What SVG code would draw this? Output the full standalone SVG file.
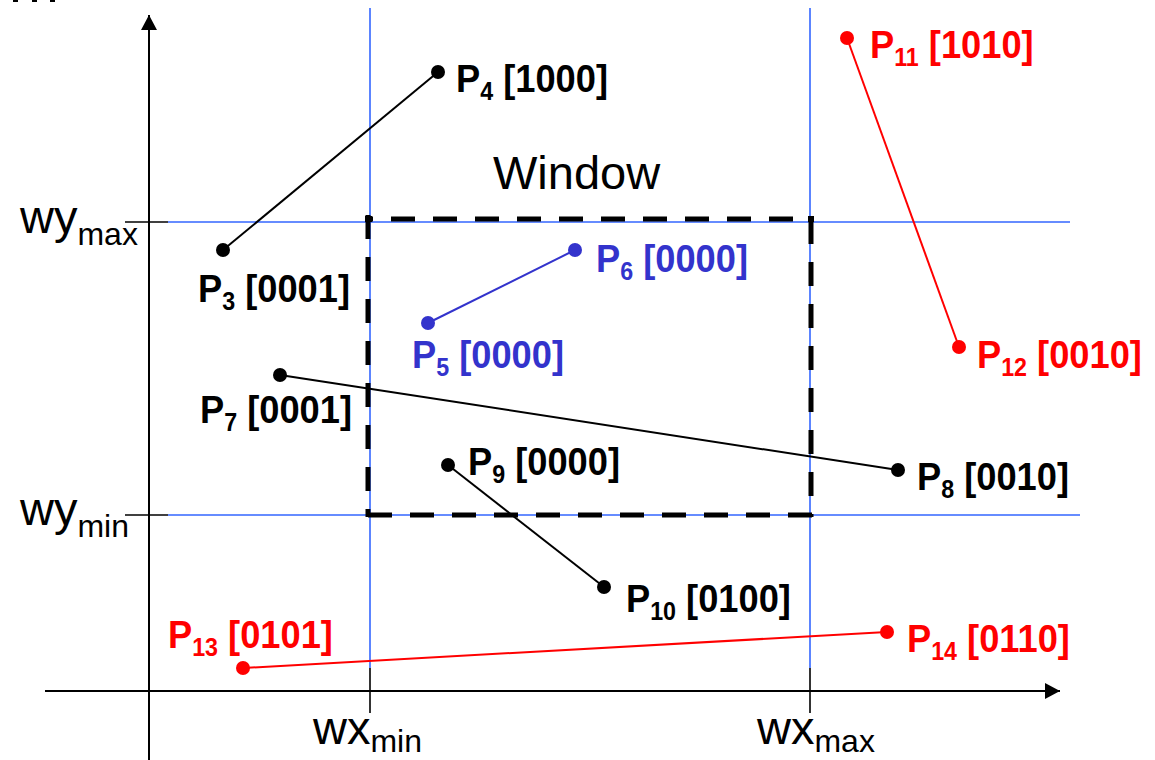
<svg xmlns="http://www.w3.org/2000/svg" width="1155" height="760" viewBox="0 0 1155 760">
<style>
.axis{stroke:#000;stroke-width:2;fill:none}
.grid{stroke:#3366ff;stroke-width:1.6;fill:none}
.tick{stroke:#000;stroke-width:1.6;fill:none}
.win{stroke:#000;stroke-width:5;fill:none;stroke-dasharray:24 18}
.lab{font-family:"Liberation Sans",Arial,sans-serif;font-weight:bold;font-size:39px}
.sub{font-size:25px}
.ax{font-family:"Liberation Sans",Arial,sans-serif;font-size:47px;fill:#000}
.axs{font-size:32px}
.blk{fill:#000}.blu{fill:#3333cc}.red{fill:#ff0000}
.lb{stroke:#000;stroke-width:2}.lu{stroke:#3333cc;stroke-width:2}.lr{stroke:#ff0000;stroke-width:2}
</style>
<defs>
<marker id="ah" markerWidth="16" markerHeight="16" refX="15" refY="8" orient="auto" markerUnits="userSpaceOnUse"><path d="M0,0 L15,8 L0,16 Z" fill="#000"/></marker>
</defs>
<rect x="0" y="0" width="1155" height="760" fill="#fff"/>
<rect x="13" y="0" width="5" height="2" fill="#000"/>
<rect x="32" y="0" width="5" height="2" fill="#000"/>
<rect x="50" y="0" width="5" height="2" fill="#000"/>
<g id="axes">
<line class="axis" x1="149" y1="760" x2="149" y2="15" marker-end="url(#ah)"/>
<line class="axis" x1="45" y1="691" x2="1060" y2="691" marker-end="url(#ah)"/>
<line class="tick" x1="125" y1="222" x2="168" y2="222"/>
<line class="tick" x1="125" y1="515" x2="168" y2="515"/>
<line class="tick" x1="370" y1="668" x2="370" y2="713"/>
<line class="tick" x1="810" y1="668" x2="810" y2="713"/>
</g>
<g id="grid">
<line class="grid" x1="168" y1="222" x2="1070" y2="222"/>
<line class="grid" x1="168" y1="515" x2="1080" y2="515"/>
<line class="grid" x1="370" y1="8" x2="370" y2="668"/>
<line class="grid" x1="810" y1="8" x2="810" y2="668"/>
</g>
<g id="window">
<line class="win" x1="368" y1="219" x2="813" y2="219" style="stroke-dashoffset:19"/>
<line class="win" x1="368" y1="515" x2="813" y2="515"/>
<line class="win" x1="368" y1="215" x2="368" y2="517"/>
<line class="win" x1="811" y1="217" x2="811" y2="517" style="stroke-dashoffset:-3"/>
<rect x="365" y="216" width="7" height="6" fill="#000"/>
<rect x="808" y="216" width="6" height="6" fill="#000"/>
<text x="493" y="189" class="ax" style="font-size:47px">Window</text>
</g>
<g id="axis-labels">
<text x="20" y="233" class="ax">wy<tspan class="axs" dy="12">max</tspan></text>
<text x="20" y="525" class="ax">wy<tspan class="axs" dy="12">min</tspan></text>
<text x="313" y="744" class="ax">wx<tspan class="axs" dy="8">min</tspan></text>
<text x="757" y="744" class="ax">wx<tspan class="axs" dy="8">max</tspan></text>
</g>
<g id="connectors">
<line class="lb" x1="223" y1="250" x2="438" y2="72"/>
<line class="lu" x1="428" y1="323" x2="575" y2="250"/>
<line class="lb" x1="280" y1="375" x2="898" y2="470"/>
<line class="lb" x1="448" y1="465" x2="604" y2="587"/>
<line class="lr" x1="847" y1="38" x2="959" y2="347"/>
<line class="lr" x1="243" y1="668" x2="887" y2="632"/>
</g>
<g id="P3"><circle cx="223" cy="250" r="7" class="blk"/><text class="lab blk" transform="translate(198,302) scale(0.93,1)">P<tspan class="sub" dy="8">3</tspan><tspan dy="-8"> [0001]</tspan></text></g>
<g id="P4"><circle cx="438" cy="72" r="7" class="blk"/><text class="lab blk" transform="translate(456,92) scale(0.93,1)">P<tspan class="sub" dy="8">4</tspan><tspan dy="-8"> [1000]</tspan></text></g>
<g id="P5"><circle cx="428" cy="323" r="7" class="blu"/><text class="lab blu" transform="translate(412,368) scale(0.93,1)">P<tspan class="sub" dy="8">5</tspan><tspan dy="-8"> [0000]</tspan></text></g>
<g id="P6"><circle cx="575" cy="250" r="7" class="blu"/><text class="lab blu" transform="translate(596,272) scale(0.93,1)">P<tspan class="sub" dy="8">6</tspan><tspan dy="-8"> [0000]</tspan></text></g>
<g id="P7"><circle cx="280" cy="375" r="7" class="blk"/><text class="lab blk" transform="translate(200,423) scale(0.93,1)">P<tspan class="sub" dy="8">7</tspan><tspan dy="-8"> [0001]</tspan></text></g>
<g id="P8"><circle cx="898" cy="470" r="7" class="blk"/><text class="lab blk" transform="translate(917,490) scale(0.93,1)">P<tspan class="sub" dy="8">8</tspan><tspan dy="-8"> [0010]</tspan></text></g>
<g id="P9"><circle cx="448" cy="465" r="7" class="blk"/><text class="lab blk" transform="translate(468,475) scale(0.93,1)">P<tspan class="sub" dy="8">9</tspan><tspan dy="-8"> [0000]</tspan></text></g>
<g id="P10"><circle cx="604" cy="587" r="7" class="blk"/><text class="lab blk" transform="translate(626,612) scale(0.93,1)">P<tspan class="sub" dy="8">10</tspan><tspan dy="-8"> [0100]</tspan></text></g>
<g id="P11"><circle cx="847" cy="38" r="7" class="red"/><text class="lab red" transform="translate(870,58) scale(0.93,1)">P<tspan class="sub" dy="8">11</tspan><tspan dy="-8"> [1010]</tspan></text></g>
<g id="P12"><circle cx="959" cy="347" r="7" class="red"/><text class="lab red" transform="translate(977,368) scale(0.93,1)">P<tspan class="sub" dy="8">12</tspan><tspan dy="-8"> [0010]</tspan></text></g>
<g id="P13"><circle cx="243" cy="668" r="7" class="red"/><text class="lab red" transform="translate(168,648) scale(0.93,1)">P<tspan class="sub" dy="8">13</tspan><tspan dy="-8"> [0101]</tspan></text></g>
<g id="P14"><circle cx="887" cy="632" r="7" class="red"/><text class="lab red" transform="translate(907,652) scale(0.93,1)">P<tspan class="sub" dy="8">14</tspan><tspan dy="-8"> [0110]</tspan></text></g>
</svg>
